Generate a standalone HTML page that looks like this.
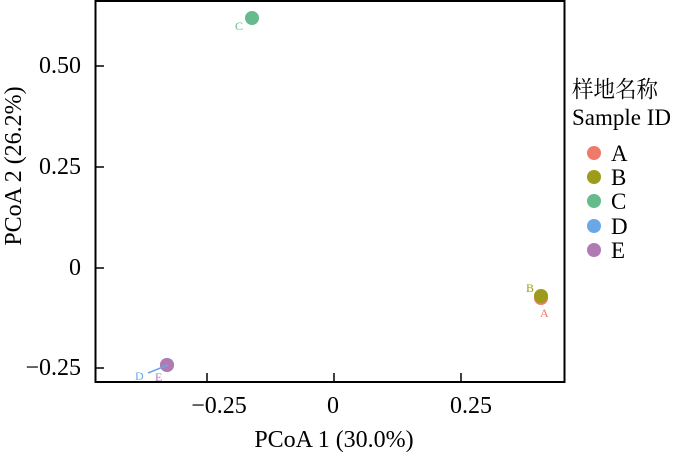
<!DOCTYPE html>
<html><head><meta charset="utf-8"><style>body{margin:0;background:#fff}</style></head>
<body>
<svg width="676" height="452" viewBox="0 0 676 452" xmlns="http://www.w3.org/2000/svg" font-family="Liberation Serif, Noto Serif CJK SC, serif">
<rect x="95.5" y="1" width="469" height="381" fill="none" stroke="#000" stroke-width="2"/>
<g stroke="#000" stroke-width="1.5">
<line x1="96" y1="66" x2="104" y2="66"/><line x1="96" y1="167" x2="104" y2="167"/>
<line x1="96" y1="268" x2="104" y2="268"/><line x1="96" y1="368" x2="104" y2="368"/>
<line x1="207" y1="381" x2="207" y2="373"/><line x1="334" y1="381" x2="334" y2="373"/>
<line x1="461" y1="381" x2="461" y2="373"/>
</g>
<g font-size="24">
<text x="81" y="73" text-anchor="end">0.50</text>
<text x="81" y="174" text-anchor="end">0.25</text>
<text x="81" y="275" text-anchor="end">0</text>
<text x="81" y="375" text-anchor="end">−0.25</text>
<text x="219" y="413" text-anchor="middle">−0.25</text>
<text x="333" y="413" text-anchor="middle">0</text>
<text x="471" y="413" text-anchor="middle">0.25</text>
<text x="334" y="447" text-anchor="middle">PCoA 1 (30.0%)</text>
<text transform="translate(21,166) rotate(-90)" text-anchor="middle">PCoA 2 (26.2%)</text>
</g>
<circle cx="252" cy="18" r="7" fill="#66bb8c"/>
<text x="235" y="30" font-size="12" fill="#66bb8c">C</text>
<circle cx="541" cy="298" r="7" fill="#f07a6a"/>
<circle cx="541" cy="296" r="7" fill="#9c9c1a"/>
<text x="526" y="292" font-size="12" fill="#9c9c1a">B</text>
<text x="540" y="317" font-size="12" fill="#f07a6a">A</text>
<circle cx="167" cy="365" r="7" fill="#6aa7e6"/>
<circle cx="167" cy="365" r="7" fill="#b07ab3"/>
<line x1="148" y1="373" x2="168" y2="365" stroke="#6aa7e6" stroke-width="1.5"/>
<text x="135" y="380" font-size="12" fill="#6aa7e6">D</text>
<text x="155" y="381" font-size="12" fill="#b07ab3">E</text>
<g font-size="23">
<text x="572" y="97" textLength="86" lengthAdjust="spacingAndGlyphs">样地名称</text>
<text x="572" y="125">Sample ID</text>
<circle cx="594" cy="153" r="7" fill="#f07a6a"/><text x="611" y="161">A</text>
<circle cx="594" cy="177" r="7" fill="#9c9c1a"/><text x="611" y="185">B</text>
<circle cx="594" cy="201" r="7" fill="#66bb8c"/><text x="611" y="209">C</text>
<circle cx="594" cy="226" r="7" fill="#6aa7e6"/><text x="611" y="234">D</text>
<circle cx="594" cy="250" r="7" fill="#b07ab3"/><text x="611" y="258">E</text>
</g>
</svg>
</body></html>
